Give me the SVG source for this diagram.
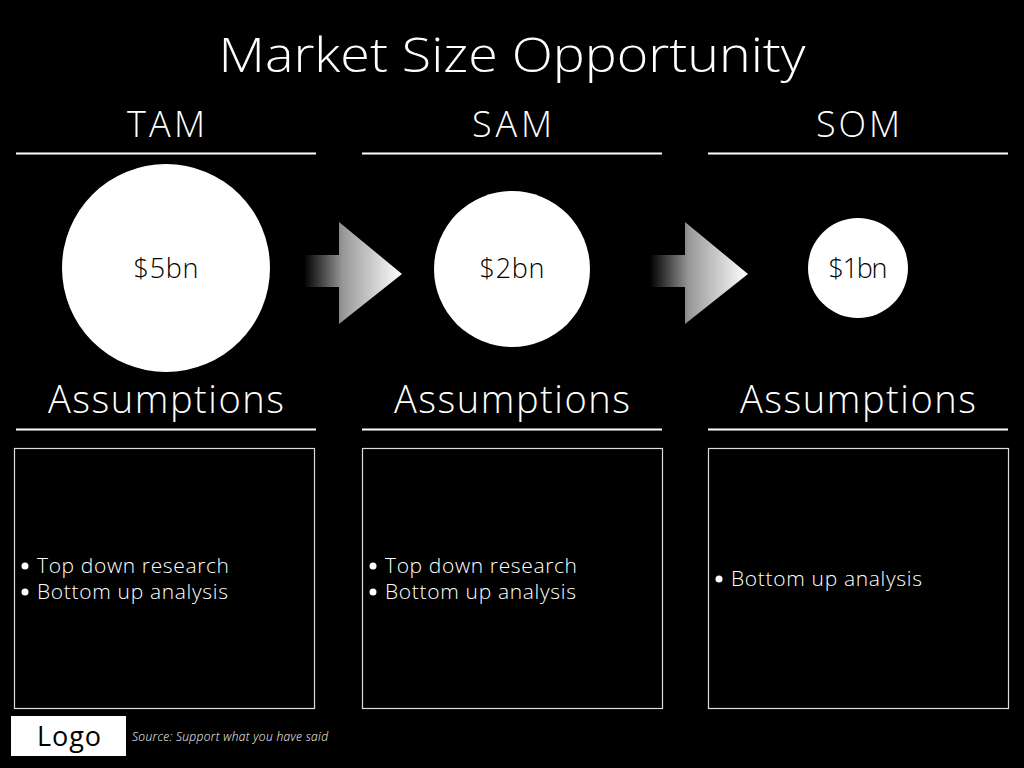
<svg xmlns="http://www.w3.org/2000/svg" width="1024" height="768" viewBox="0 0 1024 768">
<style>
text{font-family:"Open Sans","Noto Sans","Liberation Sans",sans-serif;font-weight:300;fill:#fff}
.title{font-size:47px;text-anchor:middle}
.hdr{font-size:36px;text-anchor:middle}
.asm{font-size:38px;text-anchor:middle}
.val{font-size:27px;text-anchor:middle;fill:#000;font-weight:300}
.bul{font-size:21px}
.rule{stroke:#fff;stroke-width:2}
.box{fill:none;stroke:#ddd;stroke-width:1.2}
</style>
<defs>
<linearGradient id="ag" x1="0" y1="0" x2="1" y2="0">
<stop offset="0" stop-color="#000"/>
<stop offset="0.4" stop-color="#999"/>
<stop offset="1" stop-color="#fff"/>
</linearGradient>
<path id="arrow" d="M0,-16 H35 V-49 L98,3 L35,53 V16 H0 Z"/>
</defs>
<rect width="1024" height="768" fill="#000"/>
<text class="title" x="512" y="72" textLength="587" lengthAdjust="spacingAndGlyphs">Market Size Opportunity</text>

<g id="tam">
<text class="hdr" x="166" y="137" textLength="78">TAM</text>
<line class="rule" x1="16" y1="153.5" x2="316" y2="153.5"/>
<circle cx="166" cy="268" r="104" fill="#fff"/>
<text class="val" x="166" y="278" textLength="65">$5bn</text>
<text class="asm" x="166" y="413" textLength="236">Assumptions</text>
<line class="rule" x1="16" y1="429.5" x2="316" y2="429.5"/>
<rect class="box" x="14.5" y="448.5" width="300" height="260"/>
<circle cx="25" cy="566" r="3.5" fill="#fff"/>
<text class="bul" x="37" y="573" textLength="192">Top down research</text>
<circle cx="25" cy="592" r="3.5" fill="#fff"/>
<text class="bul" x="37" y="599" textLength="191">Bottom up analysis</text>
</g>

<g id="sam">
<text class="hdr" x="512" y="137" textLength="80">SAM</text>
<line class="rule" x1="362" y1="153.5" x2="662" y2="153.5"/>
<circle cx="512" cy="269" r="78" fill="#fff"/>
<text class="val" x="512" y="278" textLength="65">$2bn</text>
<text class="asm" x="512" y="413" textLength="236">Assumptions</text>
<line class="rule" x1="362" y1="429.5" x2="662" y2="429.5"/>
<rect class="box" x="362.5" y="448.5" width="300" height="260"/>
<circle cx="373" cy="566" r="3.5" fill="#fff"/>
<text class="bul" x="385" y="573" textLength="192">Top down research</text>
<circle cx="373" cy="592" r="3.5" fill="#fff"/>
<text class="bul" x="385" y="599" textLength="191">Bottom up analysis</text>
</g>

<g id="som">
<text class="hdr" x="858" y="137" textLength="84">SOM</text>
<line class="rule" x1="708" y1="153.5" x2="1008" y2="153.5"/>
<circle cx="858" cy="268" r="50" fill="#fff"/>
<text class="val" x="858" y="278" textLength="59">$1bn</text>
<text class="asm" x="858" y="413" textLength="236">Assumptions</text>
<line class="rule" x1="708" y1="429.5" x2="1008" y2="429.5"/>
<rect class="box" x="708.5" y="448.5" width="300" height="260"/>
<circle cx="719" cy="579" r="3.5" fill="#fff"/>
<text class="bul" x="731" y="586" textLength="191">Bottom up analysis</text>
</g>

<g id="connectors">
<use href="#arrow" x="304" y="271" fill="url(#ag)"/>
<use href="#arrow" x="650" y="271" fill="url(#ag)"/>
</g>

<g id="footer">
<rect x="11" y="716" width="115" height="40" fill="#fff"/>
<text x="69" y="746" font-size="27" text-anchor="middle" textLength="64" style="fill:#000;font-weight:400">Logo</text>
<text x="132" y="741" font-size="12" font-style="italic" textLength="196">Source: Support what you have said</text>
</g>
</svg>
